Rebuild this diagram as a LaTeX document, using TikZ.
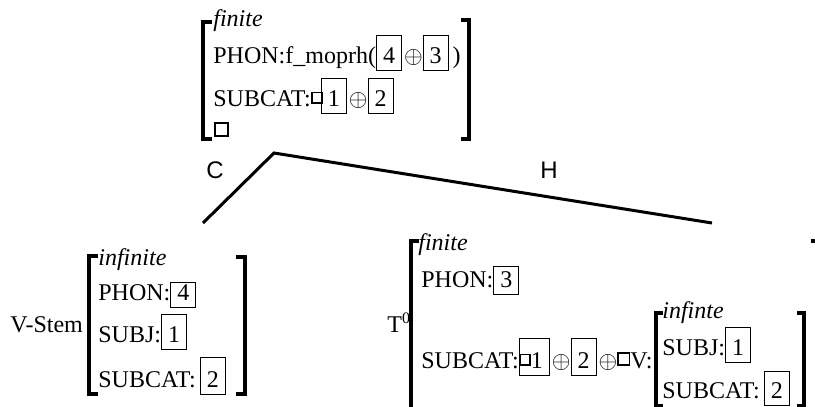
\documentclass[tikz,border=0pt]{standalone}
\usepackage{fontspec}
\usepackage{tikz}
\setmainfont{Liberation Serif}
\newfontfamily\labfont{Liberation Sans}
\newcommand\tagbox[2][13.5pt]{{\fboxsep=0pt\fboxrule=0.5pt%
  \fbox{\rule[-3.5pt]{0pt}{\dimexpr#1+3.5pt\relax}\hspace{3pt}#2\hspace{3pt}}}}
\newcommand\sqbox[1][4.4pt]{\raisebox{2pt}{\fboxsep=0pt\fboxrule=0.8pt%
  \fbox{\rule{#1}{0pt}\rule{0pt}{#1}}}}
\newcommand\opl{\hspace{1pt}$\oplus$}

\begin{document}
\begin{tikzpicture}[x=0.5pt,y=-0.5pt,
        brk/.style={line width=1.6pt},
        branch/.style={line width=1.5pt},
        feat/.style={anchor=base west, inner sep=0pt,
                        font=\fontsize{12}{14}\selectfont},
        typ/.style={feat, font=\fontsize{12}{14}\selectfont\itshape},
        lbl/.style={inner sep=0pt, font=\fontsize{12}{14}\selectfont\labfont}]
    \useasboundingbox (0,0) rectangle (815,407);
    \clip (0,0) rectangle (815,407);

    % mother
    \node[typ] (mfin) at (213,26) {finite};
    \node[feat] (mphon) at (213,63) {PHON:f\_moprh(\tagbox{4}\opl\tagbox{3}\,)};
    \node[feat] (msub) at (213,106) {SUBCAT:\sqbox\hspace{-1pt}\tagbox{1}\opl\tagbox{2}};
    \node[draw, line width=0.9pt, minimum size=6.5pt, inner sep=0pt,
            anchor=south west] (mtag) at (214,137) {};
    \draw[brk] (212,22) -- (203,22) -- (203,139) -- (212,139);
    \draw[brk] (461,20) -- (469,20) -- (469,139) -- (461,139);

    % branches
    \coordinate (apex) at (274,153);
    \coordinate (cfoot) at (203,223);
    \coordinate (hfoot) at (712,223);
    \draw[branch] (cfoot) -- (apex) -- (hfoot);
    \node[lbl] (c) at (215,170) {C};
    \node[lbl] (h) at (549,170) {H};

    % complement
    \node[feat] (vstem) at (10,332) {V-Stem};
    \node[typ] (sfin) at (98,265) {infinite};
    \node[feat] (sphon) at (98,300) {PHON:\tagbox[8.5pt]{4}};
    \node[feat] (ssubj) at (98,342) {SUBJ:\tagbox{1}};
    \node[feat] (ssub) at (98,387) {SUBCAT:\,\tagbox[14.5pt]{2}};
    \draw[brk] (98,256) -- (89,256) -- (89,394) -- (98,394);
    \draw[brk] (236,257) -- (245,257) -- (245,394) -- (236,394);

    % head
    \node[feat] (tnull) at (387,332) {T\textsuperscript{0}};
    \node[typ] (tfin) at (418,250) {finite};
    \node[feat] (tphon) at (421,287) {PHON:\tagbox[10pt]{3}};
    \node[feat] (tsub) at (421,368)
        {SUBCAT:\sqbox\hspace{-6pt}\tagbox[14.5pt]{\hspace{2.5pt}1}\opl\tagbox[14.5pt]{2}%
         \opl\sqbox[5pt]V:};
    \draw[brk] (419,241) -- (411,241) -- (411,420);
    \draw[brk] (811,241) -- (819,241) -- (819,420);

    % embedded V
    \node[typ] (vfin) at (662,318) {infinte};
    \node[feat] (vsubj) at (662,355) {SUBJ:\tagbox[13.5pt]{1}};
    \node[feat] (vsub) at (662,398) {SUBCAT:\,\tagbox[13pt]{2}};
    \draw[brk] (663,313) -- (656,313) -- (656,406) -- (663,406);
    \draw[brk] (797,313) -- (804,313) -- (804,406) -- (797,406);
\end{tikzpicture}
\end{document}
